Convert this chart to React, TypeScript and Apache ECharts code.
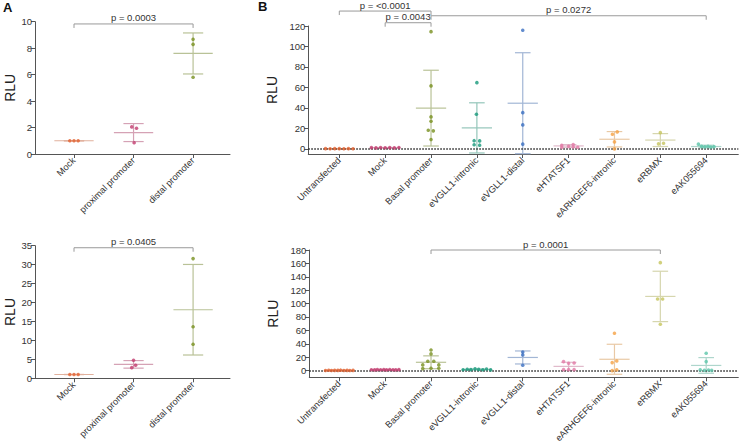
import React, { useEffect, useRef } from "react";
import * as echarts from "echarts";

const FONT = "'Liberation Sans', Arial, Helvetica, sans-serif";

// ---------- Panel A ----------
const catsA = ["Mock", "proximal promoter", "distal promoter"];
const colorsA = ["#E2622F", "#C23B6E", "#78901F"];

const pointsA1 = [[1, 1, 1], [2.05, 1.95, 0.85], [8.67, 8.29, 5.8]];
const jitterA1 = [[-0.07, 0, 0.07], [-0.03, 0.05, 0.01], [0, 0, 0]];
const meanA1 = [1, 1.62, 7.6];
const sdA1 = [0, 0.68, 1.55];
const bracketFromA1 = [0];
const bracketToA1 = [2];
const bracketYA1 = [9.83];
const bracketLabelA1 = ["p = 0.0003"];

const pointsA2 = [[1, 1, 1], [4.75, 3.43, 2.81], [31.6, 13.6, 9.0]];
const jitterA2 = [[-0.07, 0, 0.07], [0, 0.035, -0.03], [0, 0, 0]];
const meanA2 = [1, 3.68, 18.1];
const sdA2 = [0, 1.0, 11.95];
const bracketFromA2 = [0];
const bracketToA2 = [2];
const bracketYA2 = [34.46];
const bracketLabelA2 = ["p = 0.0405"];

// ---------- Panel B ----------
const catsB = [
  "Untransfected", "Mock", "Basal promoter", "eVGLL1-intronic", "eVGLL1-distal",
  "eHTATSF1", "eARHGEF6-intronic", "eRBMX", "eAK055694",
];
const colorsB = ["#E2622F", "#C23B6E", "#78901F", "#17997A", "#3B6FC2", "#E27BA6", "#F5A143", "#C5C45C", "#5CC5AA"];

const pointsB1 = [
  [0.2, 0.1, 0.3, 0.2, 0.1, 0.2, 0.1],
  [1.2, 1.0, 1.3, 1.1, 1.2, 1.0, 1.3],
  [114.5, 61.5, 31.2, 27.0, 18.2, 17.6, 9.1],
  [64.7, 33.8, 8.0, 7.8, 4.0, 3.6],
  [115.8, 35.4, 23.4, 4.6],
  [3.5, 1.5, 2.5, 4.2, 1.8, 1.6],
  [14.3, 16.6, 6.8, 0],
  [15.9, 4.9, 5.5],
  [4.6, 2.4, 2.0, 2.6, 1.8, 2.2],
];
const jitterB1 = [
  [-0.3, -0.2, -0.1, 0, 0.1, 0.2, 0.3],
  [-0.3, -0.2, -0.1, 0, 0.1, 0.2, 0.3],
  [0, 0, 0, 0, -0.06, 0.05, 0],
  [0, -0.01, -0.06, 0.06, -0.06, 0.06],
  [0, 0, 0, 0],
  [-0.15, -0.15, 0, 0.1, 0.1, 0.2],
  [-0.045, 0.06, 0, 0],
  [0, -0.04, 0.07],
  [-0.17, -0.1, -0.03, 0.04, 0.1, 0.17],
];
const meanB1 = [0.15, 1.15, 39.8, 20.5, 44.6, 2.9, 9.4, 8.6, 2.3];
const sdB1 = [0.1, 0.15, 37.0, 24.5, 49.3, 1.3, 7.5, 6.3, 1.3];
const yTicksB1 = [0, 20, 40, 60, 80, 100, 120];
const bracketFromB1 = [0, 1, 2];
const bracketToB1 = [2, 2, 8];
const bracketYB1 = [134.6, 123.2, 130];
const bracketLabelB1 = ["p = <0.0001", "p = 0.0043", "p = 0.0272"];

const pointsB2 = [
  [0.2, 0.5, 0.1, 0.4, 0.3, 0.6, 0.2, 0.4, 0.1, 0.3],
  [1.3, 1.0, 1.5, 1.2, 1.4, 1.1, 1.6, 1.2, 1.0, 1.4],
  [30.8, 24.9, 13.9, 13.9, 8.5, 8.5, 3.0, 3.5, 3.5],
  [1.2, 2.0, 1.5, 2.6, 1.8, 1.3, 2.4, 1.0],
  [27.8, 23.4, 8.0],
  [13.4, 10.9, 11.4, 1.5, 1.5, 1.5],
  [55.7, 14.4, 11.9, 1.0, 0],
  [161.1, 106.9, 106.9, 69.1],
  [25.9, 13.4, 1.0, 0.5, 0.8, 0.3],
];
const jitterB2 = [
  [-0.3, -0.23, -0.17, -0.1, -0.03, 0.03, 0.1, 0.17, 0.23, 0.3],
  [-0.3, -0.23, -0.17, -0.1, -0.03, 0.03, 0.1, 0.17, 0.23, 0.3],
  [0, 0, -0.07, 0.06, -0.18, 0.17, -0.18, 0, 0.17],
  [-0.3, -0.21, -0.13, -0.04, 0.04, 0.13, 0.21, 0.3],
  [0, 0, 0],
  [-0.11, 0, 0.12, -0.11, 0, 0.12],
  [0, 0.05, -0.05, 0.05, -0.05],
  [0, -0.06, 0.05, 0],
  [0, 0, -0.13, -0.04, 0.05, 0.12],
];
const meanB2 = [0.3, 1.3, 12.4, 1.7, 19.6, 6.3, 16.9, 110.7, 7.7];
const sdB2 = [0.2, 0.2, 9.6, 0.5, 9.7, 6.1, 22.4, 37.6, 11.7];
const yTicksB2 = [0, 20, 40, 60, 80, 100, 120, 140, 160, 180];
const bracketFromB2 = [2];
const bracketToB2 = [7];
const bracketYB2 = [180];
const bracketLabelB2 = ["p = 0.0001"];

const yTicksA1 = [0, 2, 4, 6, 8, 10];
const yTicksA2 = [0, 5, 10, 15, 20, 25, 30, 35];

function tint(hex: string, a: number) {
  const base = 225;
  const r = parseInt(hex.slice(1, 3), 16);
  const g = parseInt(hex.slice(3, 5), 16);
  const b = parseInt(hex.slice(5, 7), 16);
  const m = (v: number) => Math.round(a * v + (1 - a) * base);
  return `rgb(${m(r)},${m(g)},${m(b)})`;
}

function panelSeries(
  axisIdx: number,
  colors: string[],
  points: number[][],
  jitter: number[][],
  means: number[],
  sds: number[],
  bFrom: number[],
  bTo: number[],
  bY: number[],
  bLabel: string[],
  zeroLine: boolean
) {
  const scatterData: any[] = [];
  points.forEach((vals, c) =>
    vals.forEach((v, k) =>
      scatterData.push({ value: [c + jitter[c][k], v], itemStyle: { color: colors[c] } })
    )
  );
  const scatter: any = {
    type: "scatter",
    xAxisIndex: axisIdx,
    yAxisIndex: axisIdx,
    symbolSize: 3.6,
    z: 4,
    data: scatterData,
  };
  if (zeroLine) {
    scatter.markLine = {
      silent: true,
      symbol: ["none", "none"],
      label: { show: false },
      lineStyle: { color: "#222", type: [1.5, 1.5], width: 1.5 },
      data: [{ yAxis: 0 }],
      z: 3,
    };
  }
  const errors = {
    type: "custom",
    xAxisIndex: axisIdx,
    yAxisIndex: axisIdx,
    clip: false,
    z: 2,
    data: means.map((m, c) => [c, m, sds[c]]),
    renderItem: (params: any, api: any) => {
      const c = api.value(0);
      const m = api.value(1);
      const s = api.value(2);
      const mid = api.coord([c, m]);
      const hi = api.coord([c, m + s]);
      const lo = api.coord([c, m - s]);
      const w = api.size([1, 0])[0];
      const col = tint(colors[params.dataIndex], 0.38);
      const st = { stroke: col, lineWidth: 1.2 };
      const ln = (x1: number, y1: number, x2: number, y2: number) => ({
        type: "line",
        shape: { x1, y1, x2, y2 },
        style: st,
      });
      return {
        type: "group",
        children: [
          ln(mid[0], hi[1], mid[0], lo[1]),
          ln(mid[0] - 0.33 * w, mid[1], mid[0] + 0.33 * w, mid[1]),
          ln(mid[0] - 0.17 * w, hi[1], mid[0] + 0.17 * w, hi[1]),
          ln(mid[0] - 0.17 * w, lo[1], mid[0] + 0.17 * w, lo[1]),
        ],
      };
    },
  };
  const brackets = {
    type: "custom",
    xAxisIndex: axisIdx,
    yAxisIndex: axisIdx,
    clip: false,
    z: 5,
    data: bFrom.map((f, i) => [f, bY[i], bTo[i]]),
    renderItem: (params: any, api: any) => {
      const y = api.value(1);
      const p1 = api.coord([api.value(0), y]);
      const p2 = api.coord([api.value(2), y]);
      return {
        type: "group",
        children: [
          {
            type: "polyline",
            shape: {
              points: [
                [p1[0], p1[1] + 4],
                [p1[0], p1[1]],
                [p2[0], p2[1]],
                [p2[0], p2[1] + 4],
              ],
            },
            style: { stroke: "#9a9a9a", lineWidth: 1, fill: "none" },
          },
          {
            type: "text",
            x: (p1[0] + p2[0]) / 2,
            y: p1[1] - 6,
            style: {
              text: bLabel[params.dataIndex],
              align: "center",
              verticalAlign: "middle",
              fontSize: 9.5,
              fontFamily: FONT,
              fill: "#333",
            },
          },
        ],
      };
    },
  };
  return [errors, scatter, brackets];
}

const axisLineStyle = { lineStyle: { color: "#555", width: 1 } };

function xAxisFor(gridIndex: number, cats: string[], min: number, max: number) {
  const idx = cats.map((_, i) => i);
  return {
    type: "value",
    gridIndex,
    min,
    max,
    splitLine: { show: false },
    axisLine: { show: true, onZero: false, ...axisLineStyle },
    axisTick: { show: true, length: 4, customValues: idx, lineStyle: { color: "#555" } },
    axisLabel: {
      customValues: idx,
      formatter: (v: number) => cats[Math.round(v)] ?? "",
      rotate: 45,
      fontSize: 9.2,
      fontFamily: FONT,
      color: "#333",
      margin: 5,
    },
  };
}

function yAxisFor(gridIndex: number, min: number, max: number, ticks: number[], nameGap: number) {
  return {
    type: "value",
    gridIndex,
    min,
    max,
    name: "RLU",
    nameLocation: "middle",
    nameGap,
    nameTextStyle: { fontSize: 14, fontFamily: FONT, color: "#222" },
    splitLine: { show: false },
    axisLine: { show: true, onZero: false, ...axisLineStyle },
    axisTick: { show: true, length: 4, customValues: ticks, lineStyle: { color: "#555" } },
    axisLabel: { customValues: ticks, fontSize: 9.5, fontFamily: FONT, color: "#333", margin: 3 },
  };
}

export default function App() {
  const ref = useRef<HTMLDivElement>(null);
  useEffect(() => {
    if (!ref.current) return;
    const chart = echarts.init(ref.current, undefined, { renderer: "svg" });
    chart.setOption({
      animation: false,
      backgroundColor: "#fff",
      textStyle: { fontFamily: FONT },
      grid: [
        { left: 35, top: 21.7, width: 195, height: 132.3 },
        { left: 35, top: 245.7, width: 195, height: 132.6 },
        { left: 308.3, top: 26, width: 430, height: 128 },
        { left: 309.3, top: 250, width: 429, height: 127.4 },
      ],
      xAxis: [
        xAxisFor(0, catsA, -0.655, 2.62),
        xAxisFor(1, catsA, -0.655, 2.62),
        xAxisFor(2, catsB, -0.676, 8.7),
        xAxisFor(3, catsB, -0.654, 8.7),
      ],
      yAxis: [
        yAxisFor(0, 0, 10, yTicksA1, 18),
        yAxisFor(1, 0, 35, yTicksA2, 18),
        yAxisFor(2, -5, 120, yTicksB1, 21),
        yAxisFor(3, -10, 180, yTicksB2, 21),
      ],
      graphic: [
        { type: "text", left: 3, top: 1, style: { text: "A", fontSize: 13, fontWeight: "bold", fontFamily: FONT, fill: "#111" } },
        { type: "text", left: 258, top: 0, style: { text: "B", fontSize: 13, fontWeight: "bold", fontFamily: FONT, fill: "#111" } },
      ],
      series: [
        ...panelSeries(0, colorsA, pointsA1, jitterA1, meanA1, sdA1, bracketFromA1, bracketToA1, bracketYA1, bracketLabelA1, false),
        ...panelSeries(1, colorsA, pointsA2, jitterA2, meanA2, sdA2, bracketFromA2, bracketToA2, bracketYA2, bracketLabelA2, false),
        ...panelSeries(2, colorsB, pointsB1, jitterB1, meanB1, sdB1, bracketFromB1, bracketToB1, bracketYB1, bracketLabelB1, true),
        ...panelSeries(3, colorsB, pointsB2, jitterB2, meanB2, sdB2, bracketFromB2, bracketToB2, bracketYB2, bracketLabelB2, true),
      ],
    });
    return () => chart.dispose();
  }, []);
  return (
    <div
      ref={ref}
      style={{ position: "fixed", left: 0, top: 0, width: 739, height: 445, background: "#fff" }}
    />
  );
}
